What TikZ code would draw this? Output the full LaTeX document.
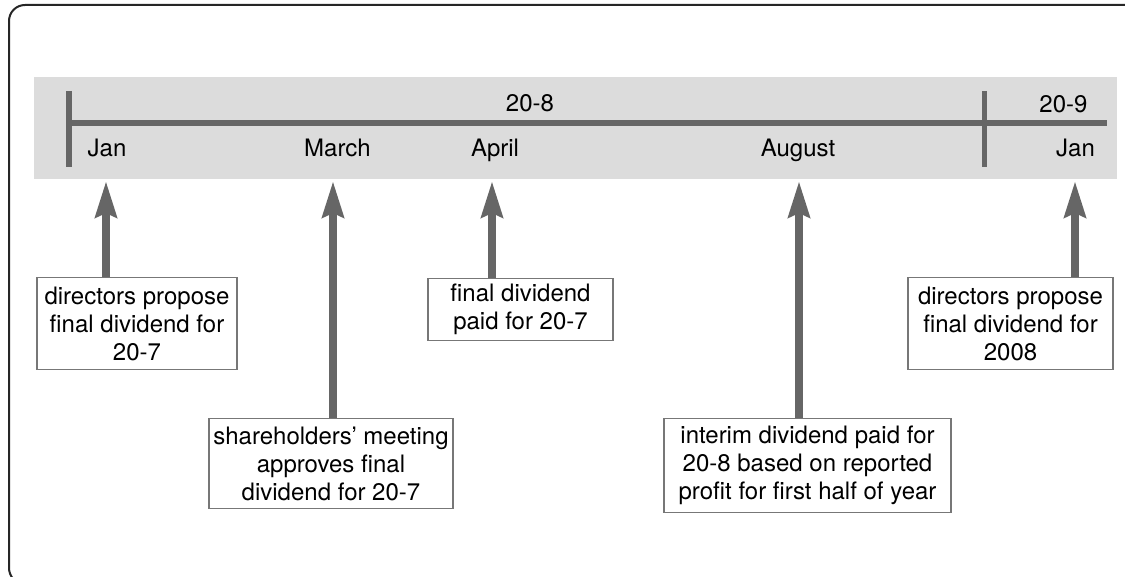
\documentclass[tikz,border=0pt]{standalone}
\usepackage{fontspec}
\setmainfont{TeX Gyre Heros}
\usetikzlibrary{arrows.meta}
\definecolor{bandgrey}{HTML}{DCDCDC}
\definecolor{linegrey}{HTML}{666666}
\definecolor{boxgrey}{HTML}{777777}
\tikzset{
  tl label/.style={
    font=\fontsize{12}{14}\selectfont,
    inner sep=0pt,
    anchor=base,
  },
  tl box/.style={
    draw=boxgrey,
    line width=0.6pt,
    fill=white,
    align=center,
    anchor=north,
    inner sep=2pt,
    font=\fontsize{12}{14}\selectfont,
  },
  tl arrow/.style={-{Stealth[length=18pt,width=10.5pt,inset=2pt]}, line width=4.2pt, draw=linegrey},
  tl bar/.style={line width=3pt, draw=linegrey},
  tl tick/.style={line width=2.6pt, draw=linegrey},
}

\begin{document}
\begin{tikzpicture}[x=0.5pt,y=-0.5pt]
  \useasboundingbox (0,0) rectangle (1125,577);
  \clip (0,0) rectangle (1125,577);
  \draw[line width=1pt, draw=black!85, rounded corners=8pt] (9,5) rectangle (1160,584);

  % the year band
  \fill[bandgrey] (34,77) rectangle (1117,179);
  \draw[tl bar] (69,123.5) -- (1107,123.5);
  \draw[tl tick] (69,91) -- (69,167);
  \draw[tl tick] (984.5,91) -- (984.5,167);

  \node[tl label] (y8) at (530,112) {20-8};
  \node[tl label] (y9) at (1063.5,113) {20-9};
  \node[tl label] (jan) at (107,157) {Jan};
  \node[tl label] (mar) at (337.5,157) {March};
  \node[tl label] (apr) at (495,157) {April};
  \node[tl label] (aug) at (798,157) {August};
  \node[tl label] (jan2) at (1075.5,157) {Jan};

  % where the arrows point
  \coordinate (t-jan) at (106,181);
  \coordinate (t-mar) at (333,181);
  \coordinate (t-apr) at (492,181);
  \coordinate (t-aug) at (799,181);
  \coordinate (t-jan2) at (1075,181);

  % events
  \node[tl box, minimum width=100pt, minimum height=46pt] (propose) at (137,277)
    {directors propose\\final dividend for\\20-7};
  \node[tl box, minimum width=122pt, minimum height=45pt] (meeting) at (331,418)
    {shareholders’ meeting\\approves final\\dividend for 20-7};
  \node[tl box, minimum width=92.5pt, minimum height=31pt] (paid) at (520.5,278)
    {final dividend\\paid for 20-7};
  \node[tl box, minimum width=143.5pt, minimum height=47pt] (interim) at (807.5,418)
    {interim dividend paid for\\20-8 based on reported\\profit for first half of year};
  \node[tl box, minimum width=102.5pt, minimum height=46pt] (propose2) at (1010.5,277)
    {directors propose\\final dividend for\\2008};

  \draw[tl arrow] (propose.north -| t-jan) -- (t-jan);
  \draw[tl arrow] (meeting.north -| t-mar) -- (t-mar);
  \draw[tl arrow] (paid.north -| t-apr) -- (t-apr);
  \draw[tl arrow] (interim.north -| t-aug) -- (t-aug);
  \draw[tl arrow] (propose2.north -| t-jan2) -- (t-jan2);
\end{tikzpicture}
\end{document}
